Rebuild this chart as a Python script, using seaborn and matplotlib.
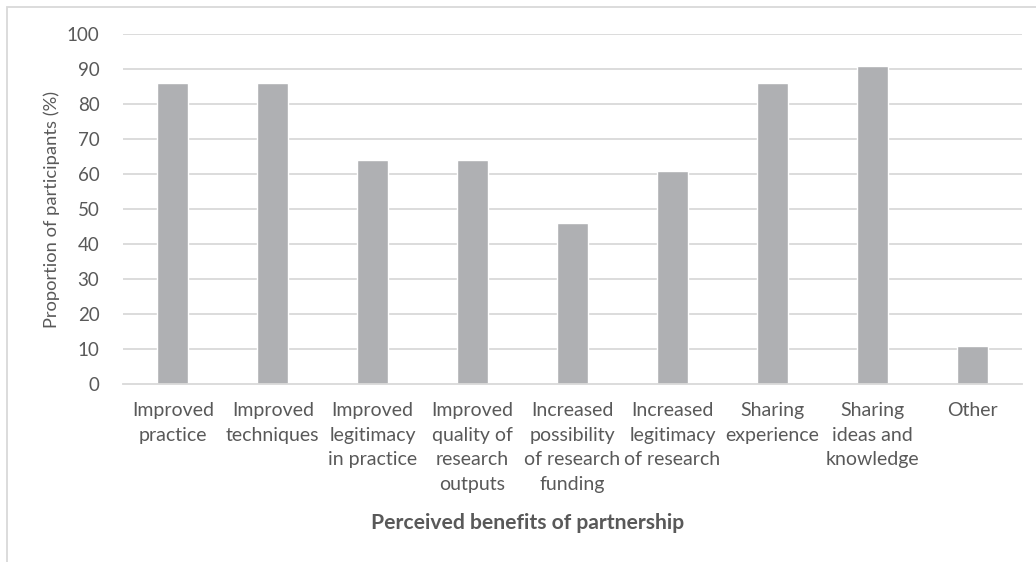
import matplotlib
matplotlib.use("Agg")
import matplotlib.pyplot as plt
import seaborn as sns
import pandas as pd
from matplotlib.patches import Rectangle

categories = ["Improved\npractice", "Improved\ntechniques", "Improved\nlegitimacy\nin practice",
              "Improved\nquality of\nresearch\noutputs", "Increased\npossibility\nof research\nfunding",
              "Increased\nlegitimacy\nof research", "Sharing\nexperience", "Sharing\nideas and\nknowledge",
              "Other"]
values = [86, 86, 64, 64, 46, 61, 86, 91, 11]
yticks = [0, 10, 20, 30, 40, 50, 60, 70, 80, 90, 100]

sns.set_theme(style="white")
plt.rcParams['font.family'] = ['Lato', 'DejaVu Sans']

text_color = "#595959"
grid_color = "#D9D9D9"
bar_color = "#AFB0B3"

df = pd.DataFrame({"category": categories, "value": values})

fig = plt.figure(figsize=(10.36, 5.62), dpi=100)
W, H = 1036, 562
ax = fig.add_axes([123 / W, 1 - 384 / H, (1022 - 123) / W, (384 - 34) / H])

sns.barplot(data=df, x="category", y="value", color=bar_color, width=0.31,
            saturation=1, ax=ax, zorder=3)

ax.set_ylim(0, 100)
ax.set_yticks(yticks)
ax.set_xlim(-0.5, len(categories) - 0.5)
for y in yticks[1:]:
    ax.axhline(y, color=grid_color, lw=1.3, zorder=1)
for s in ["top", "right", "left"]:
    ax.spines[s].set_visible(False)
ax.spines["bottom"].set_color(grid_color)
ax.spines["bottom"].set_linewidth(1.3)
ax.spines["bottom"].set_zorder(4)

ax.tick_params(axis="both", length=0, colors=text_color)
ax.tick_params(axis="y", pad=17, labelsize=13.5)
ax.tick_params(axis="x", pad=13, labelsize=14)
for lbl in ax.get_xticklabels():
    lbl.set_linespacing(1.55)

ax.set_ylabel("Proportion of participants (%)", color=text_color, fontsize=13.2)
ax.yaxis.set_label_coords(-(123 - 52) / (1022 - 123), 0.5)
ax.set_xlabel("Perceived benefits of partnership", color=text_color, fontsize=15.2,
              fontweight="bold")
ax.xaxis.set_label_coords((528 - 123) / (1022 - 123), -(523 - 384) / (384 - 34))
ax.xaxis.label.set_va("center")
ax.yaxis.label.set_va("center")

# outer chart frame
fig.add_artist(Rectangle((7 / W, -0.1), 1.2, 1 - 7 / H + 0.1, transform=fig.transFigure,
                         fill=False, edgecolor=grid_color, lw=1.3))

fig.savefig("out.png", dpi=100)
